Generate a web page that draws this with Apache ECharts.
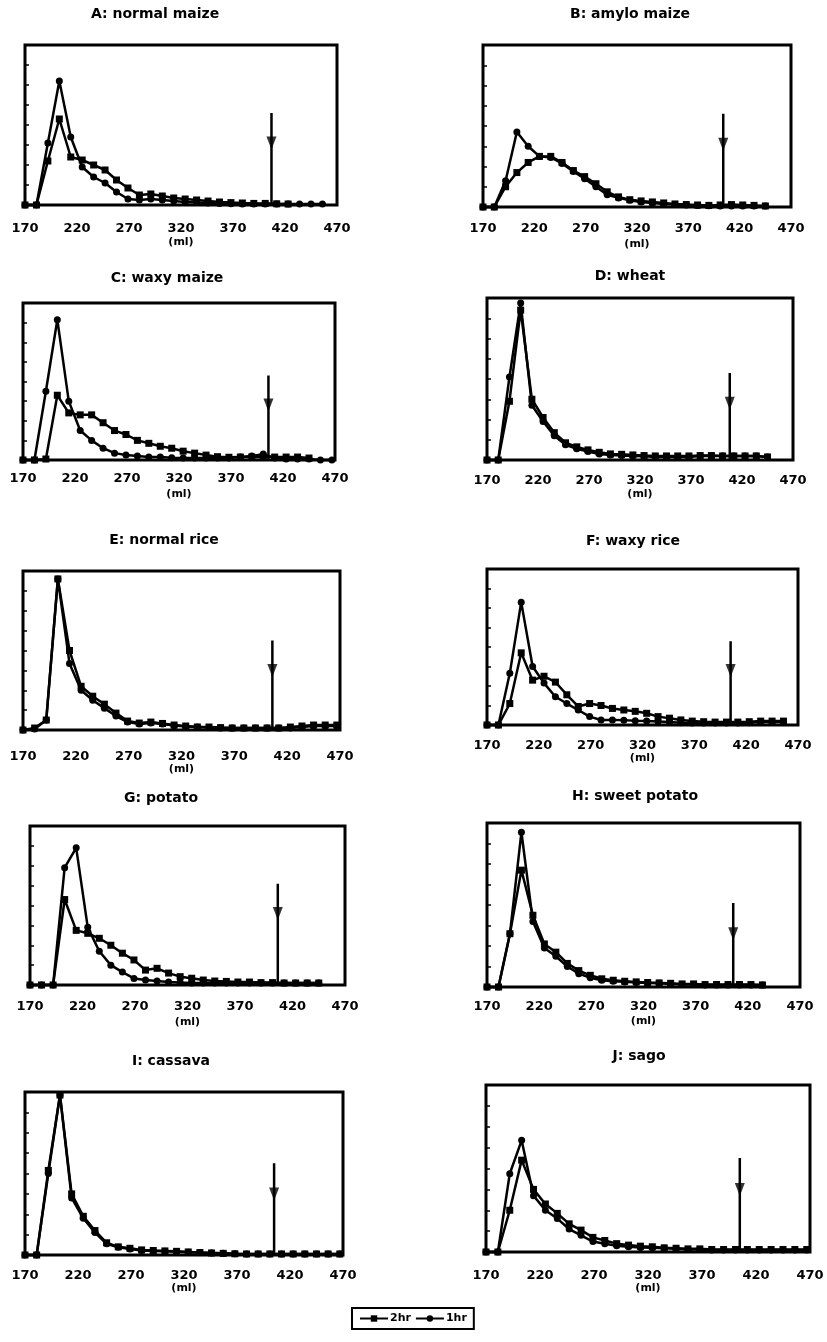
<!DOCTYPE html>
<html><head><meta charset="utf-8">
<script src="https://cdn.jsdelivr.net/npm/echarts@6/dist/echarts.min.js"></script>
<style>html,body{margin:0;padding:0;background:#fff}#c{width:827px;height:1342px}</style>
</head><body><div id="c"></div>
<script>
// ---------- DATA ----------
const titles = ['A: normal maize','B: amylo maize','C: waxy maize','D: wheat','E: normal rice',
                'F: waxy rice','G: potato','H: sweet potato','I: cassava','J: sago'];
const xTickLabels = [170, 220, 270, 320, 370, 420, 470];
const seriesNames = ['2hr', '1hr'];
// elution volume of each fraction (ml)
const volumes = [170,181,192,203,214,225,236,247,258,269,280,291,302,313,324,335,346,357,368,379,390,401,412,423,434,445,456,467];

const hr2_A = [0,0,2.2,4.3,2.4,2.25,2.0,1.75,1.25,0.85,0.5,0.55,0.45,0.35,0.3,0.25,0.2,0.15,0.12,0.1,0.08,0.08,0.06,0.05];
const hr1_A = [0,0,3.1,6.2,3.4,1.9,1.4,1.1,0.65,0.3,0.25,0.3,0.25,0.2,0.15,0.12,0.1,0.08,0.06,0.05,0.05,0.05,0.05,0.05,0.05,0.05,0.05];
const hr2_B = [0,0,1.0,1.7,2.2,2.5,2.5,2.2,1.8,1.5,1.15,0.75,0.5,0.36,0.3,0.25,0.2,0.15,0.12,0.1,0.08,0.1,0.12,0.1,0.08,0.05];
const hr1_B = [0,0,1.3,3.7,3.0,2.5,2.45,2.15,1.75,1.4,1.0,0.6,0.45,0.33,0.25,0.2,0.15,0.12,0.1,0.08,0.06,0.05,0.05,0.05,0.05,0.05];
const hr2_C = [0,0,0.05,3.3,2.4,2.3,2.3,1.9,1.5,1.3,1.0,0.85,0.7,0.6,0.45,0.35,0.25,0.17,0.14,0.15,0.15,0.15,0.15,0.15,0.15,0.1];
const hr1_C = [0,0,3.5,7.15,3.0,1.5,1.0,0.6,0.35,0.25,0.2,0.15,0.15,0.12,0.1,0.1,0.1,0.1,0.1,0.15,0.2,0.3,0.1,0.05,0.05,0.05,0,0];
const hr2_D = [0,0,2.9,7.4,3.0,2.1,1.35,0.85,0.65,0.5,0.38,0.3,0.28,0.25,0.22,0.2,0.2,0.2,0.2,0.22,0.22,0.2,0.2,0.2,0.2,0.15];
const hr1_D = [0,0,4.1,7.75,2.7,1.9,1.2,0.75,0.55,0.42,0.3,0.25,0.22,0.2,0.18,0.15,0.15,0.15,0.15,0.2,0.2,0.2,0.2,0.2,0.2,0.15];
const hr2_E = [0,0.1,0.5,7.6,4.0,2.2,1.7,1.3,0.85,0.45,0.35,0.4,0.33,0.25,0.2,0.15,0.15,0.12,0.1,0.1,0.1,0.1,0.1,0.15,0.2,0.25,0.25,0.25];
const hr1_E = [0,0.05,0.5,7.6,3.35,2.0,1.5,1.1,0.7,0.4,0.3,0.35,0.3,0.22,0.18,0.15,0.12,0.1,0.1,0.1,0.1,0.1,0.1,0.1,0.15,0.2,0.2,0.2];
const hr2_F = [0,0,1.1,3.7,2.3,2.5,2.2,1.55,0.95,1.1,1.0,0.85,0.77,0.7,0.6,0.43,0.35,0.26,0.2,0.17,0.15,0.15,0.15,0.17,0.2,0.2,0.2];
const hr1_F = [0,0,2.65,6.3,3.0,2.15,1.45,1.1,0.77,0.43,0.26,0.26,0.25,0.22,0.2,0.18,0.15,0.12,0.1,0.1,0.1,0.1,0.1,0.12,0.15,0.15,0.15];
const hr2_G = [0,0,0,4.3,2.75,2.6,2.35,2.0,1.6,1.26,0.75,0.84,0.6,0.42,0.34,0.25,0.2,0.18,0.15,0.15,0.12,0.12,0.1,0.1,0.1,0.1];
const hr1_G = [0,0,0,5.9,6.9,2.9,1.7,1.0,0.65,0.33,0.25,0.2,0.15,0.12,0.1,0.1,0.1,0.1,0.1,0.1,0.1,0.1,0.1,0.1,0.1,0.1];
const hr2_H = [0,0,2.6,5.7,3.5,2.1,1.7,1.15,0.8,0.57,0.4,0.33,0.28,0.25,0.22,0.2,0.18,0.15,0.15,0.12,0.12,0.12,0.12,0.12,0.1];
const hr1_H = [0,0,2.6,7.55,3.2,1.9,1.5,1.0,0.65,0.45,0.33,0.28,0.25,0.22,0.2,0.18,0.15,0.12,0.12,0.1,0.1,0.1,0.1,0.1,0.1];
const hr2_I = [0,0,4.15,7.85,3.0,1.9,1.2,0.6,0.4,0.33,0.25,0.22,0.2,0.18,0.15,0.12,0.1,0.08,0.06,0.05,0.05,0.05,0.05,0.05,0.05,0.05,0.05,0.05];
const hr1_I = [0,0,4.0,7.85,2.8,1.8,1.1,0.55,0.38,0.3,0.22,0.2,0.18,0.16,0.14,0.12,0.1,0.08,0.06,0.05,0.05,0.05,0.05,0.05,0.05,0.05,0.05,0.05];
const hr2_J = [0,0,2.0,4.4,3.0,2.3,1.85,1.35,1.05,0.7,0.55,0.4,0.33,0.28,0.25,0.2,0.18,0.15,0.15,0.12,0.12,0.12,0.12,0.12,0.12,0.12,0.12,0.12];
const hr1_J = [0,0,3.75,5.35,2.7,2.0,1.6,1.1,0.8,0.5,0.4,0.3,0.25,0.22,0.2,0.18,0.15,0.12,0.12,0.1,0.1,0.1,0.1,0.1,0.1,0.1,0.1,0.1];

// arrow marker (ml) and its height
const arrowVolume = [407,404,406,408,406,405,406,406,405,405];
const arrowHeight = [4.6,4.6,4.3,4.3,4.5,4.3,5.1,4.1,4.5,4.5];

const hr2 = [hr2_A,hr2_B,hr2_C,hr2_D,hr2_E,hr2_F,hr2_G,hr2_H,hr2_I,hr2_J];
const hr1 = [hr1_A,hr1_B,hr1_C,hr1_D,hr1_E,hr1_F,hr1_G,hr1_H,hr1_I,hr1_J];

// ---------- LAYOUT ----------
const layout = [
  {l:25,  t:45,   w:312, h:160, tx:155, ty:16,   m:18, ng:32},
  {l:483, t:45,   w:308, h:162, tx:630, ty:16,   m:16, ng:32},
  {l:23,  t:303,  w:312, h:157, tx:167, ty:280,  m:13, ng:29},
  {l:487, t:298,  w:306, h:162, tx:630, ty:278,  m:15, ng:29},
  {l:23,  t:571,  w:317, h:159, tx:164, ty:542,  m:21, ng:32},
  {l:487, t:569,  w:311, h:156, tx:633, ty:543,  m:15, ng:27},
  {l:30,  t:826,  w:315, h:159, tx:161, ty:800,  m:16, ng:32},
  {l:487, t:823,  w:313, h:164, tx:635, ty:798,  m:14, ng:29},
  {l:25,  t:1092, w:318, h:163, tx:171, ty:1063, m:15, ng:27},
  {l:486, t:1085, w:324, h:167, tx:639, ty:1058, m:18, ng:30}
];

const FONT = 'DejaVu Sans';
const grids = [], xAxes = [], yAxes = [], series = [], titleOpts = [];
layout.forEach((L, i) => {
  grids.push({left:L.l, top:L.t, width:L.w, height:L.h, show:true, borderColor:'#000', borderWidth:3});
  xAxes.push({
    type:'value', gridIndex:i, min:170, max:470, interval:10,
    axisLine:{show:false}, axisTick:{show:false}, splitLine:{show:false},
    axisLabel:{margin:L.m - 1, color:'#000', fontFamily:FONT, fontWeight:'bold', fontSize:13,
      formatter: v => xTickLabels.includes(v) ? String(v) : ''},
    name:'(ml)', nameLocation:'middle', nameGap:L.ng,
    nameTextStyle:{color:'#000', fontFamily:FONT, fontWeight:'bold', fontSize:11}
  });
  yAxes.push({
    type:'value', gridIndex:i, min:0, max:8, interval:1,
    axisLine:{show:false}, splitLine:{show:false}, axisLabel:{show:false},
    axisTick:{show:true, inside:true, length:4, lineStyle:{color:'#000', width:1.5}}
  });
  titleOpts.push({
    text: titles[i], left: L.tx, top: L.ty - 9, textAlign:'center', padding:0,
    textStyle:{fontFamily:FONT, fontWeight:'bold', fontSize:14, color:'#000'}
  });
  series.push({
    type:'line', name:seriesNames[0], xAxisIndex:i, yAxisIndex:i,
    data: hr2[i].map((v, k) => [volumes[k], v]),
    symbol:'rect', symbolSize:7, clip:false,
    lineStyle:{color:'#000', width:2.5}, itemStyle:{color:'#000'}
  });
  series.push({
    type:'line', name:seriesNames[1], xAxisIndex:i, yAxisIndex:i,
    data: hr1[i].map((v, k) => [volumes[k], v]),
    symbol:'circle', symbolSize:7, clip:false,
    lineStyle:{color:'#000', width:2.5}, itemStyle:{color:'#000'}
  });
  series.push({
    type:'line', name:'arrow', xAxisIndex:i, yAxisIndex:i,
    data:[[arrowVolume[i], arrowHeight[i]], [arrowVolume[i], 0]],
    symbol:'none', clip:false, lineStyle:{color:'#000', width:2.5}
  });
  series.push({
    type:'scatter', name:'arrowhead', xAxisIndex:i, yAxisIndex:i,
    data:[[arrowVolume[i], arrowHeight[i] - 1.5]],
    symbol:'triangle', symbolRotate:180, symbolSize:[10, 13], clip:false,
    itemStyle:{color:'#000'}
  });
});

const chart = echarts.init(document.getElementById('c'), null, {renderer:'canvas'});
chart.setOption({
  animation:false,
  backgroundColor:'#fff',
  title: titleOpts,
  grid: grids, xAxis: xAxes, yAxis: yAxes, series: series,
  legend:{
    data: seriesNames, left:352, top:1308, orient:'horizontal',
    borderColor:'#000', borderWidth:2, padding:[5,7], itemGap:4,
    itemWidth:28, itemHeight:8,
    textStyle:{fontFamily:FONT, fontWeight:'bold', fontSize:11, color:'#000', padding:[0,0,0,-3]}
  }
});
</script></body></html>
